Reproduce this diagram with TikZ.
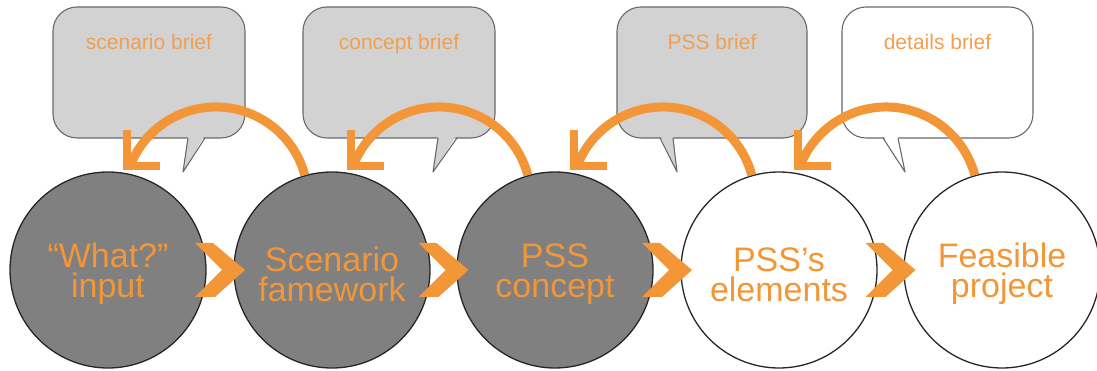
\documentclass[tikz,border=0pt]{standalone}
\usepackage{fontspec}
\setmainfont{Liberation Sans}
\definecolor{org}{RGB}{242,150,56}
\definecolor{orgt}{RGB}{240,160,82}
\definecolor{darkfill}{RGB}{128,128,128}
\definecolor{boxg}{RGB}{210,210,210}
\definecolor{boxb}{RGB}{105,105,105}
% bubble: #1 name, #2 x1, #3 x2, #4 fill, #5 tail left x, #6 tail right x, #7 tip x, #8 text
\newcommand{\mybubble}[8]{%
  \draw[bubble, fill=#4] (#2,233) rectangle (#3,364);
  \fill[#4] (#5,236) -- (#7,199) -- (#6,236) -- cycle;
  \draw[draw=boxb, line width=1.1pt, line join=round] (#5,233) -- (#7,199) -- (#6,233);
  \node[btext] (#1) at ({(#2+#3)/2},321) {#8};
}
\newcommand{\mychev}[1]{%
  \fill[org] (#1-25,128) -- (#1-7,128) -- (#1+25,101) -- (#1-5,74) -- (#1-25,74) -- (#1+2,101) -- cycle;
}
% loop arrow from circle #1 back to circle #2, head coordinate #3
\newcommand{\myloop}[3]{%
  \coordinate (#3) at ([shift={(19,104)}]#2.center);
  \draw[loop] (#1.106) arc[start angle=15, end angle=160, radius=92];
  \draw[barb] ([yshift=36pt]#3) -- (#3) -- ([xshift=33pt]#3);
}
\newcommand{\sline}{\rule{0pt}{33pt}}
\begin{document}
\begin{tikzpicture}[x=1pt,y=1pt,
  circ/.style={circle, draw=black!85, line width=1.3pt, minimum size=196pt, inner sep=0pt,
    align=center, text=org, font=\fontsize{34}{30}\selectfont},
  darkc/.style={circ, fill=darkfill},
  lightc/.style={circ, fill=white},
  bubble/.style={draw=boxb, line width=1.1pt, rounded corners=24pt},
  btext/.style={text=orgt, font=\fontsize{21}{24}\selectfont, anchor=base, inner sep=0pt},
  loop/.style={draw=org, line width=9pt},
  barb/.style={draw=org, line width=8pt, line join=miter, line cap=butt}]
\useasboundingbox (0,0) rectangle (1097,371);

\mybubble{b1}{53}{245}{boxg}{188}{205}{183}{scenario brief}
\mybubble{b2}{303}{495}{boxg}{438}{457}{433}{concept brief}
\mybubble{b3}{617}{807}{boxg}{660}{673}{677}{PSS brief}
\mybubble{b4}{842}{1033}{white}{883}{898}{905}{details brief}

\node[darkc]  (c1) at (108,101) {\sline“What?”\\input};
\node[darkc]  (c2) at (332,101) {\sline Scenario\\famework};
\node[darkc]  (c3) at (555,101) {\sline PSS\\concept};
\node[lightc] (c4) at (779,101) {\sline PSS’s\\elements};
\node[lightc] (c5) at (1002,101) {\sline Feasible\\project};

\mychev{220}
\mychev{443.5}
\mychev{667}
\mychev{890.5}

\myloop{c2}{c1}{h1}
\myloop{c3}{c2}{h2}
\myloop{c4}{c3}{h3}
\myloop{c5}{c4}{h4}
\end{tikzpicture}
\end{document}
